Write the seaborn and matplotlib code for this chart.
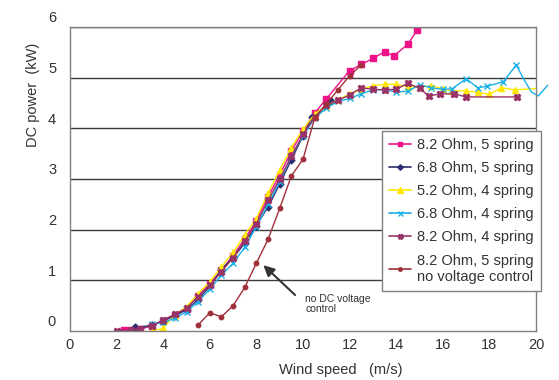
import matplotlib
matplotlib.use("Agg")
import matplotlib.pyplot as plt
import matplotlib.transforms as mtransforms
from matplotlib.lines import Line2D
import seaborn as sns
import pandas as pd

# ---------------- data ----------------
pink_x = [2.3, 2.6, 3.0, 3.5, 4.0, 4.5, 5.0, 5.5, 6.0, 6.5, 7.0, 7.5, 8.0, 8.5, 9.0, 9.5, 10.0, 10.5,
          11.0, 12.0, 12.5, 13.0, 13.5, 13.9, 14.5, 14.9]
pink_y = [0.02, 0.01, 0.04, 0.1, 0.2, 0.31, 0.44, 0.7, 0.93, 1.2, 1.49, 1.82, 2.17, 2.65, 3.08, 3.55, 3.95, 4.3,
          4.58, 5.14, 5.26, 5.38, 5.51, 5.43, 5.66, 5.94]

navy_x = [2.8, 3.5, 4.0, 4.5, 5.0, 5.5, 6.0, 6.5, 7.0, 7.5, 8.0, 8.5, 9.0, 9.5, 10.0, 10.4, 11.2]
navy_y = [0.07, 0.11, 0.2, 0.3, 0.42, 0.62, 0.88, 1.22, 1.45, 1.73, 2.08, 2.45, 2.9, 3.38, 3.85, 4.23, 4.54]

yellow_x = [3.5, 4.0, 4.5, 5.0, 5.5, 6.0, 6.5, 7.0, 7.5, 8.0, 8.5, 9.0, 9.5, 10.0, 10.5, 11.0, 11.5, 12.0,
            12.5, 13.0, 13.5, 14.0, 14.5, 15.0, 15.5, 16.0, 16.4, 17.0, 17.5, 18.0, 18.5, 19.1, 20.5]
yellow_y = [0.0, 0.05, 0.32, 0.48, 0.74, 0.97, 1.27, 1.55, 1.9, 2.22, 2.72, 3.18, 3.62, 3.98, 4.28, 4.45, 4.56, 4.68,
            4.77, 4.84, 4.87, 4.87, 4.82, 4.82, 4.84, 4.78, 4.74, 4.74, 4.71, 4.67, 4.8, 4.76, 4.8]

cyan_x = [3.5, 4.0, 4.5, 5.0, 5.5, 6.0, 6.5, 7.0, 7.5, 8.0, 8.5, 9.0, 9.5, 10.0, 10.5, 11.0, 11.5, 12.0,
          12.5, 13.0, 13.5, 14.0, 14.5, 15.0, 15.5, 16.0, 16.4, 17.0, 17.5, 17.9, 18.6, 19.15]
cyan_y = [0.13, 0.17, 0.25, 0.38, 0.58, 0.83, 1.1, 1.34, 1.65, 2.06, 2.5, 2.95, 3.45, 3.85, 4.2, 4.4, 4.53, 4.59,
          4.68, 4.76, 4.76, 4.72, 4.73, 4.86, 4.8, 4.77, 4.78, 4.98, 4.8, 4.83, 4.92, 5.25]
cyan_tail_x = [19.15, 19.5, 19.8, 20.1, 20.5]
cyan_tail_y = [5.25, 4.95, 4.72, 4.64, 4.85]

plum_x = [2.0, 2.6, 3.0, 3.5, 4.0, 4.5, 5.0, 5.5, 6.0, 6.5, 7.0, 7.5, 8.0, 8.5, 9.0, 9.5, 10.0, 10.5, 11.0,
          11.5, 12.0, 12.5, 13.0, 13.5, 14.0, 14.5, 15.0, 15.4, 15.9, 16.5, 17.0, 19.2]
plum_y = [0.0, 0.02, 0.04, 0.1, 0.22, 0.33, 0.45, 0.68, 0.9, 1.17, 1.45, 1.78, 2.12, 2.58, 3.0, 3.45, 3.88, 4.22, 4.46,
          4.55, 4.66, 4.8, 4.77, 4.76, 4.77, 4.89, 4.79, 4.64, 4.68, 4.68, 4.62, 4.62]

red_x = [5.5, 6.0, 6.5, 7.0, 7.5, 8.0, 8.5, 9.0, 9.5, 10.0, 10.5, 11.0, 11.5, 12.0, 12.5]
red_y = [0.12, 0.36, 0.28, 0.5, 0.86, 1.34, 1.81, 2.42, 3.06, 3.39, 4.2, 4.48, 4.76, 5.04, 5.25]

labels = ["8.2 Ohm, 5 spring", "6.8 Ohm, 5 spring", "5.2 Ohm, 4 spring", "6.8 Ohm, 4 spring",
          "8.2 Ohm, 4 spring", "8.2 Ohm, 5 spring\nno voltage control"]
x_ticks = [0, 2, 4, 6, 8, 10, 12, 14, 16, 18, 20]
y_ticks = [0, 1, 2, 3, 4, 5, 6]

# ---------------- style ----------------
sns.set_style("white")
plt.rcParams['font.family'] = ['Liberation Sans', 'DejaVu Sans']
txt = '#333333'

fig = plt.figure(figsize=(5.59, 3.80), dpi=100)
ax = fig.add_axes([70/559, 1-331/380, 466/559, 304/380])

series = [
    (pink_x, pink_y, '#EE1289', 's', 4.0),
    (navy_x, navy_y, '#2E2E6E', 'D', 3.5),
    (yellow_x, yellow_y, '#FFE800', '^', 5.0),
    (cyan_x, cyan_y, '#1AB0E8', 'x', 4.5),
    (plum_x, plum_y, '#993366', 'X', 4.5),
    (red_x, red_y, '#A0303A', 'o', 3.2),
]

handles = []
for (xs, ys, col, mk, ms), lab in zip(series, labels):
    df = pd.DataFrame({'x': xs, 'y': ys})
    sns.lineplot(data=df, x='x', y='y', ax=ax, color=col, marker=mk, markersize=ms,
                 markeredgecolor=col, markerfacecolor=col, markeredgewidth=1.0,
                 linewidth=1.0, estimator=None, sort=False, legend=False)
    handles.append(Line2D([], [], color=col, marker=mk, markersize=ms * 0.8,
                          markeredgecolor=col, markerfacecolor=col, linewidth=1.2))

# cyan tail (extends past the plot edge, no markers)
tail = pd.DataFrame({'x': cyan_tail_x, 'y': cyan_tail_y})
sns.lineplot(data=tail, x='x', y='y', ax=ax, color='#1AB0E8', linewidth=1.0,
             estimator=None, sort=False, legend=False)
ax.lines[-1].set_clip_on(False)

ax.set_xlim(0, 20)
ax.set_ylim(0, 6)
ax.set_xticks(x_ticks)
ax.set_yticks(y_ticks)
ax.set_xticklabels([str(v) for v in x_ticks], fontsize=10.5, color=txt)
ax.set_yticklabels([str(v) for v in y_ticks], fontsize=10.5, color=txt)
ax.tick_params(axis='both', direction='out', length=4, width=1, color='#808080', pad=1)
ax.tick_params(axis='y', pad=6)

# shift y tick labels upward
off = mtransforms.ScaledTranslation(0, 10/100, fig.dpi_scale_trans)
for lbl in ax.get_yticklabels():
    lbl.set_transform(lbl.get_transform() + off)

# horizontal grid
for yv in y_ticks[1:]:
    ax.axhline(yv, color='#3a3a3a', linewidth=1.0, zorder=0.5)

for sp in ax.spines.values():
    sp.set_visible(True)
    sp.set_color('#808080')
    sp.set_linewidth(1.0)

ax.set_xlabel("Wind speed   (m/s)", fontsize=10.5, color=txt)
ax.set_ylabel("DC power  (kW)", fontsize=10.5, color=txt)
ax.xaxis.set_label_coords(0.58, -0.105)
ax.yaxis.set_label_coords(-0.065, 0.776)

# annotation
ax.annotate("", xy=(8.3, 1.3), xytext=(9.66, 0.71),
            arrowprops=dict(arrowstyle='-|>', color='#333333', lw=1.5, mutation_scale=16,
                            shrinkA=0, shrinkB=0))
ax.text(10.1, 0.74, "no DC voltage\ncontrol", fontsize=7.5, color=txt, va='top', ha='left',
        linespacing=1.1)

leg = fig.legend(handles, labels, loc='upper left', bbox_to_anchor=(382/559, 1-131/380),
                 bbox_transform=fig.transFigure, fontsize=10.5, frameon=True, fancybox=False,
                 edgecolor='#808080', framealpha=1, handlelength=1.5, handletextpad=0.4,
                 labelspacing=0.62, borderpad=0.5, borderaxespad=0)
leg.get_frame().set_linewidth(1.0)
for t in leg.get_texts():
    t.set_color(txt)

# widen legend frame slightly to the right, like the reference
fig.canvas.draw()
bb = leg.get_frame().get_bbox()
leg.get_frame().set_width(bb.width + 8)

fig.savefig("out.png", dpi=100)
